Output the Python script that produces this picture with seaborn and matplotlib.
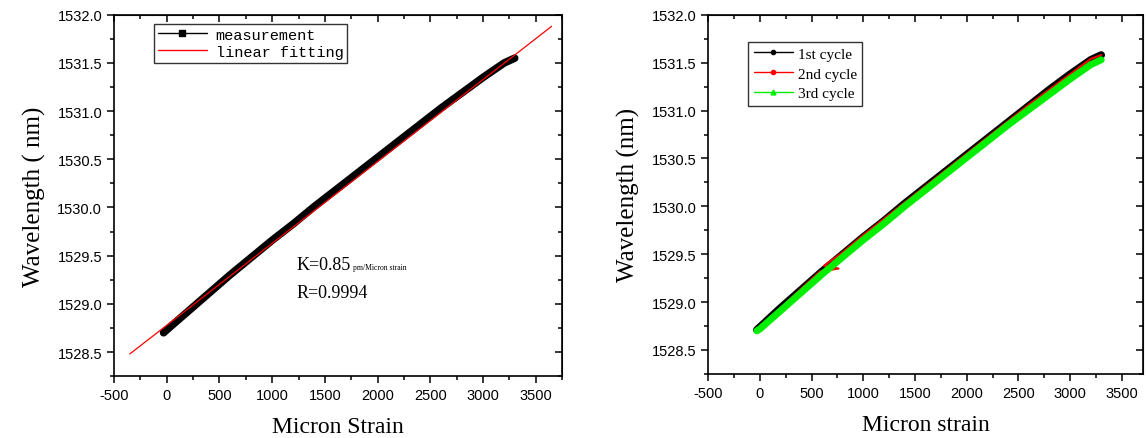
import matplotlib
matplotlib.use("Agg")
import matplotlib.pyplot as plt
from matplotlib.lines import Line2D
from matplotlib.ticker import MultipleLocator, FormatStrFormatter
import seaborn as sns

# left panel: measurement vs linear fit
meas_strain = [-30, 0, 200, 400, 600, 800, 1000, 1200, 1400, 1600, 1800,
               2000, 2200, 2400, 2600, 2800, 3000, 3200, 3300]
meas_wl = [1528.70, 1528.73, 1528.92, 1529.11, 1529.30, 1529.48, 1529.66,
           1529.83, 1530.01, 1530.18, 1530.35, 1530.52, 1530.69, 1530.86,
           1531.03, 1531.19, 1531.35, 1531.50, 1531.55]
fit_strain = [-350, 3650]
fit_wl = [1528.48, 1531.88]

# right panel: three loading cycles
c1_strain = [-30, 0, 200, 400, 600, 800, 1000, 1200, 1400, 1600, 1800,
             2000, 2200, 2400, 2600, 2800, 3000, 3200, 3300]
c1_wl = [1528.71, 1528.74, 1528.94, 1529.13, 1529.32, 1529.50, 1529.68,
         1529.85, 1530.03, 1530.20, 1530.37, 1530.54, 1530.71, 1530.88,
         1531.05, 1531.22, 1531.38, 1531.53, 1531.58]
c2_strain = [-20, 0, 200, 400, 580, 760, 620, 800, 1000, 1200, 1400, 1600,
             1800, 2000, 2200, 2400, 2600, 2800, 3000, 3200, 3300]
c2_wl = [1528.72, 1528.74, 1528.94, 1529.14, 1529.32, 1529.35, 1529.38,
         1529.52, 1529.70, 1529.87, 1530.04, 1530.21, 1530.38, 1530.55,
         1530.72, 1530.89, 1531.06, 1531.22, 1531.38, 1531.54, 1531.58]
c3_strain = [-30, 0, 200, 400, 600, 800, 1000, 1200, 1400, 1600, 1800,
             2000, 2200, 2400, 2600, 2800, 3000, 3200, 3300]
c3_wl = [1528.70, 1528.72, 1528.91, 1529.10, 1529.29, 1529.47, 1529.65,
         1529.82, 1530.00, 1530.17, 1530.34, 1530.51, 1530.68, 1530.85,
         1531.01, 1531.17, 1531.33, 1531.48, 1531.53]

sns.set_style("ticks")
plt.rcParams['font.family'] = ['Liberation Sans', 'DejaVu Sans']
plt.rcParams['axes.unicode_minus'] = False
for k in ('text.color', 'axes.labelcolor', 'xtick.color', 'ytick.color'):
    plt.rcParams[k] = 'black'
serif = ['Liberation Serif', 'DejaVu Serif']

fig = plt.figure(figsize=(11.46, 4.39), dpi=100)
ax1 = fig.add_axes([0.0995, 0.141, 0.391, 0.823])
ax2 = fig.add_axes([0.618, 0.146, 0.379, 0.818])

sns.lineplot(x=meas_strain, y=meas_wl, ax=ax1, color='black', linewidth=5.5, sort=False)
sns.lineplot(x=fit_strain, y=fit_wl, ax=ax1, color='red', linewidth=0.9)

sns.lineplot(x=c1_strain, y=c1_wl, ax=ax2, color='black', linewidth=5.5, sort=False)
sns.lineplot(x=c2_strain, y=c2_wl, ax=ax2, color='red', linewidth=1.5, sort=False)
sns.lineplot(x=c3_strain, y=c3_wl, ax=ax2, color='#00ee00', linewidth=5, sort=False)

for ax, xmax in ((ax1, 3750), (ax2, 3700)):
    ax.set_xlim(-500, xmax)
    ax.set_ylim(1528.25, 1532.0)
    ax.xaxis.set_major_locator(MultipleLocator(500))
    ax.xaxis.set_minor_locator(MultipleLocator(250))
    ax.yaxis.set_major_locator(MultipleLocator(0.5))
    ax.yaxis.set_minor_locator(MultipleLocator(0.25))
    ax.yaxis.set_major_formatter(FormatStrFormatter('%.1f'))
    for s in ax.spines.values():
        s.set_visible(True)
        s.set_linewidth(1.2)
        s.set_color('black')
    ax.tick_params(which='both', direction='out', labelsize=10.5, width=1.1)
    ax.tick_params(which='major', length=5)
    ax.tick_params(which='minor', length=3)
    top = ax.secondary_xaxis('top')
    top.xaxis.set_major_locator(MultipleLocator(500))
    top.xaxis.set_minor_locator(MultipleLocator(250))
    top.tick_params(which='both', direction='in', labeltop=False, width=1.1)
    top.tick_params(which='major', length=5)
    top.tick_params(which='minor', length=3)
    right = ax.secondary_yaxis('right')
    right.yaxis.set_major_locator(MultipleLocator(0.5))
    right.yaxis.set_minor_locator(MultipleLocator(0.25))
    right.tick_params(which='both', direction='in', labelright=False, width=1.1)
    right.tick_params(which='major', length=5)
    right.tick_params(which='minor', length=3)

ax1.set_xlabel('Micron Strain', fontsize=17, family=serif, labelpad=10)
ax1.set_ylabel('Wavelength ( nm)', fontsize=18, family=serif, labelpad=8)
ax2.set_xlabel('Micron strain', fontsize=17, family=serif, labelpad=10)
ax2.set_ylabel('Wavelength (nm)', fontsize=18, family=serif, labelpad=8)

ax1.text(1230, 1529.36, 'K=0.85', fontsize=13, family=serif)
ax1.text(1770, 1529.36, 'pm/Micron strain', fontsize=5.5, family=serif)
ax1.text(1230, 1529.07, 'R=0.9994', fontsize=13, family=serif)

h1 = [Line2D([], [], color='black', linewidth=1, marker='s', markersize=4),
      Line2D([], [], color='red', linewidth=1)]
leg1 = ax1.legend(h1, ['measurement', 'linear fitting'], loc='upper left',
                  bbox_to_anchor=(0.089, 0.975), frameon=True, fancybox=False,
                  edgecolor='black', prop={'family': 'Liberation Mono', 'size': 11},
                  handlelength=3.2, borderpad=0.25, labelspacing=0.2,
                  handletextpad=0.6, borderaxespad=0)
leg1.get_frame().set_linewidth(1.0)

h2 = [Line2D([], [], color='black', linewidth=1, marker='o', markersize=3),
      Line2D([], [], color='red', linewidth=1, marker='o', markersize=3),
      Line2D([], [], color='#00ee00', linewidth=1, marker='^', markersize=3.5)]
leg2 = ax2.legend(h2, ['1st cycle', '2nd cycle', '3rd cycle'], loc='upper left',
                  bbox_to_anchor=(0.092, 0.925), frameon=True, fancybox=False,
                  edgecolor='black', prop={'family': serif, 'size': 11},
                  handlelength=2.6, borderpad=0.35, labelspacing=0.4,
                  handletextpad=0.3, borderaxespad=0)
leg2.get_frame().set_linewidth(1.0)

fig.savefig('out.png', dpi=100)
